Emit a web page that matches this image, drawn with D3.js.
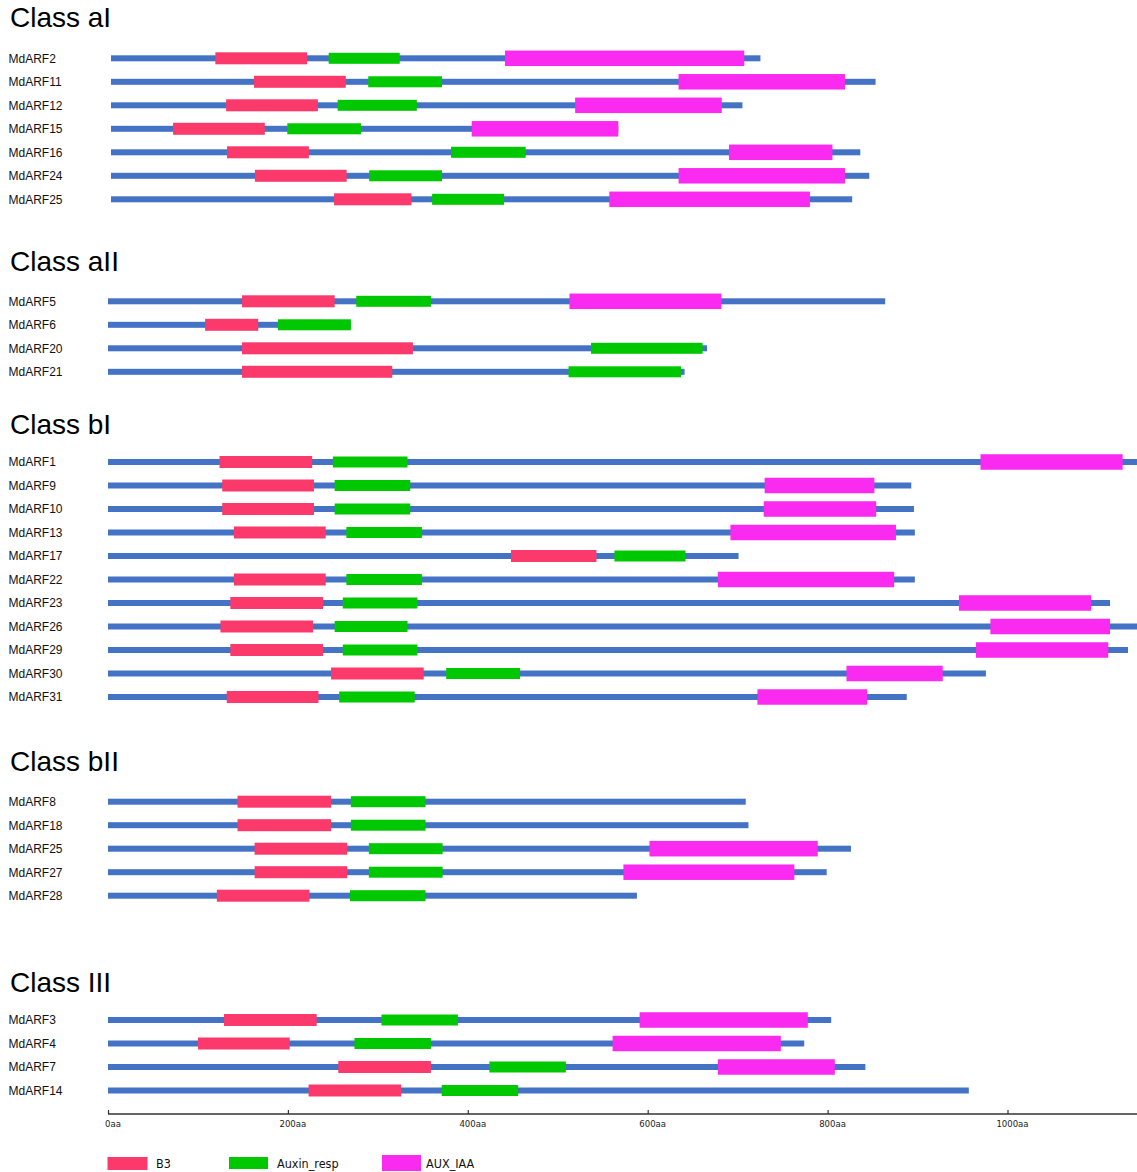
<!DOCTYPE html>
<html>
<head>
<meta charset="utf-8">
<script src="https://cdn.jsdelivr.net/npm/d3@7"></script>
<style>
  html, body { margin: 0; padding: 0; background: #fff; }
  svg { display: block; }
</style>
</head>
<body>
<script>
// ---------------- DATA ----------------
const classNames = ["Class aI", "Class aII", "Class bI", "Class bII", "Class III"];

const genes = [
  ["MdARF2", "MdARF11", "MdARF12", "MdARF15", "MdARF16", "MdARF24", "MdARF25"],
  ["MdARF5", "MdARF6", "MdARF20", "MdARF21"],
  ["MdARF1", "MdARF9", "MdARF10", "MdARF13", "MdARF17", "MdARF22", "MdARF23", "MdARF26", "MdARF29", "MdARF30", "MdARF31"],
  ["MdARF8", "MdARF18", "MdARF25", "MdARF27", "MdARF28"],
  ["MdARF3", "MdARF4", "MdARF7", "MdARF14"]
];

const proteinLengths = [
  [722, 850, 702, 564, 833, 843, 824],
  [864, 270, 666, 641],
  [1150, 893, 896, 897, 701, 897, 1114, 1150, 1134, 976, 888],
  [709, 712, 826, 799, 588],
  [804, 774, 842, 957]
];

const b3Domains = [
  [[116, 218], [159, 261], [128, 230], [69, 171], [129, 220], [160, 262], [248, 334]],
  [[149, 252], [108, 167], [149, 339], [149, 316]],
  [[124, 227], [127, 229], [127, 229], [140, 242], [448, 543], [140, 242], [136, 239], [125, 228], [136, 239], [248, 351], [132, 234]],
  [[144, 248], [144, 248], [163, 266], [163, 266], [121, 224]],
  [[129, 232], [100, 202], [256, 359], [223, 326]]
];

const auxinRespDomains = [
  [[242, 321], [286, 368], [252, 340], [196, 278], [378, 461], [287, 368], [357, 437]],
  [[276, 359], [189, 270], [537, 661], [512, 637]],
  [[250, 333], [252, 336], [252, 336], [265, 349], [563, 642], [265, 349], [261, 344], [252, 333], [261, 344], [376, 458], [257, 341]],
  [[270, 353], [270, 353], [290, 372], [290, 372], [269, 353]],
  [[304, 389], [274, 359], [424, 509], [371, 456]]
];

const auxIaaDomains = [
  [[438, 704], [631, 816], [516, 679], [401, 564], [687, 802], [631, 816], [554, 777]],
  [[513, 682], null, null, null],
  [[970, 1128], [730, 852], [729, 854], [692, 876], null, [678, 874], [946, 1093], [981, 1114], [965, 1112], [821, 928], [722, 844]],
  [null, null, [602, 789], [573, 763], null],
  [[591, 778], [561, 748], [678, 808], null]
];

const tickValues = [0, 200, 400, 600, 800, 1000];
const tickLabels = ["0aa", "200aa", "400aa", "600aa", "800aa", "1000aa"];

const legendLabels = ["B3", "Auxin_resp", "AUX_IAA"];

// ---------------- LAYOUT ----------------
const W = 1137, H = 1172;
const colors = { line: "#4472C4", b3: "#FB3A6B", aux: "#00C800", iaa: "#FA2AF0" };
const firstRowY = [58.3, 301.3, 462, 801.7, 1020];
const headerBaseline = [27, 271, 434, 771, 992];
const groupShift = [3, 0, 0, 0, 0];
const rowStep = 23.5;

const x = d3.scaleLinear().domain([0, 1000]).range([108, 1007.5]);

const svg = d3.select("body").append("svg").attr("width", W).attr("height", H);

const labelFont = "'Liberation Sans', Arial, sans-serif";
const narrowFont = "'Liberation Sans Narrow', 'DejaVu Sans Condensed', 'Liberation Sans', sans-serif";

classNames.forEach((cn, ci) => {
  const g = svg.append("g").attr("class", "group");
  g.append("text")
    .attr("x", 10).attr("y", headerBaseline[ci])
    .attr("font-family", labelFont).attr("font-size", 28)
    .attr("fill", "#000").text(cn);

  const y = d3.scaleLinear().domain([0, 1]).range([firstRowY[ci], firstRowY[ci] + rowStep]);
  const gx = g.append("g").attr("transform", `translate(${groupShift[ci]},0)`);

  genes[ci].forEach((name, i) => {
    const yy = y(i);
    g.append("text")
      .attr("x", 8.5).attr("y", yy + 4.3)
      .attr("font-family", labelFont).attr("font-size", 12)
      .attr("fill", "#111").text(name);

    gx.append("rect")
      .attr("x", x(0)).attr("y", yy - 3)
      .attr("width", x(proteinLengths[ci][i]) - x(0)).attr("height", 6)
      .attr("fill", colors.line);

    const doms = [
      [b3Domains[ci][i], colors.b3, 12],
      [auxinRespDomains[ci][i], colors.aux, 11],
      [auxIaaDomains[ci][i], colors.iaa, 15.5]
    ];
    doms.forEach(([d, c, h]) => {
      if (!d) return;
      gx.append("rect")
        .attr("x", x(d[0])).attr("y", yy - h / 2)
        .attr("width", x(d[1]) - x(d[0])).attr("height", h)
        .attr("fill", c);
    });
  });
});

// ---------------- AXIS ----------------
const axisG = svg.append("g").attr("transform", "translate(0,1114)");
axisG.append("line")
  .attr("x1", x(0)).attr("x2", W + 5).attr("y1", 0).attr("y2", 0)
  .attr("stroke", "#333").attr("stroke-width", 1.5);
const axis = d3.axisTop(x).tickValues(tickValues).tickSize(4)
  .tickFormat((d, i) => "");
const ag = axisG.append("g").call(axis);
ag.select(".domain").remove();
ag.selectAll(".tick line").attr("stroke", "#333").attr("stroke-width", 1.2);
axisG.selectAll("text.tl").data(tickValues).enter().append("text")
  .attr("class", "tl")
  .attr("x", d => x(d) + 5).attr("y", 12.5)
  .attr("text-anchor", "middle")
  .attr("font-family", narrowFont).attr("font-size", 9.5)
  .attr("fill", "#222")
  .text((d, i) => tickLabels[i]);

// ---------------- LEGEND ----------------
const legendItems = [
  { label: legendLabels[0], color: colors.b3, bx: 107.5, bw: 40, by: 1157, bh: 13, tx: 156 },
  { label: legendLabels[1], color: colors.aux, bx: 229, bw: 39, by: 1157, bh: 12, tx: 277 },
  { label: legendLabels[2], color: colors.iaa, bx: 382, bw: 39, by: 1155, bh: 16, tx: 426 }
];
const lg = svg.append("g");
legendItems.forEach(it => {
  lg.append("rect").attr("x", it.bx).attr("y", it.by).attr("width", it.bw).attr("height", it.bh).attr("fill", it.color);
  lg.append("text").attr("x", it.tx).attr("y", 1167.5)
    .attr("font-family", narrowFont).attr("font-size", 12.5)
    .attr("fill", "#111").text(it.label);
});
</script>
</body>
</html>
